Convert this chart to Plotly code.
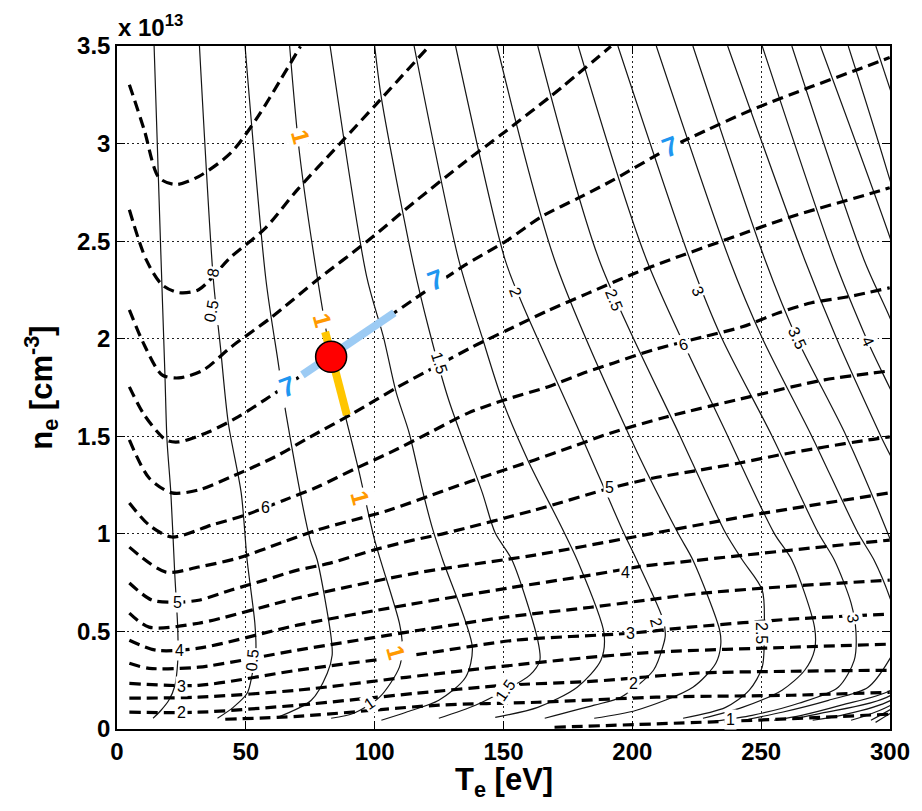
import plotly.graph_objects as go

# ---------------- data (T_e in eV, n_e in 1e13 cm^-3) ----------------
# solid contour lines (levels 0.25 ... 5.0)
s025_T = [14.4, 17.1, 18.6, 19.4, 20.9, 22.4, 23.6, 23.6, 22.4, 20.1, 17.1, 14.0]
s025_n = [3.50, 2.405, 1.815, 1.481, 1.210, 0.799, 0.506, 0.352, 0.219, 0.147, 0.096, 0.055]
s050_T = [32.0, 37.4, 40.1, 43.2, 48.2, 50.5, 53.5, 53.9, 52.4, 50.5, 45.1, 39.0]
s050_n = [3.50, 2.302, 1.963, 1.568, 1.210, 0.866, 0.542, 0.404, 0.276, 0.183, 0.111, 0.055]
s075_T = [49.7, 57.8, 62.4, 65.8, 75.0, 77.7, 83.1, 83.5, 81.6, 75.4, 62.4]
s075_n = [3.50, 2.302, 1.892, 1.599, 0.968, 0.866, 0.470, 0.378, 0.286, 0.147, 0.060]
s100_T = [67.0, 70.8, 77.7, 83.1, 88.5, 93.8, 100.0, 109.6, 110.7, 109.6, 101.9, 91.9, 83.1]
s100_n = [3.50, 2.954, 2.318, 1.907, 1.610, 1.327, 0.968, 0.542, 0.429, 0.317, 0.163, 0.081, 0.055]
s125_T = [82.7, 96.9, 103.4, 108.4, 113.4, 118.8, 122.6, 126.4, 137.9, 135.3, 124.9, 112.2, 102.6]
s125_n = [3.50, 2.318, 2.009, 1.722, 1.517, 1.210, 1.020, 0.866, 0.419, 0.265, 0.147, 0.086, 0.045]
s150_T = [100.0, 102.7, 114.9, 121.1, 128.7, 141.8, 146.8, 153.3, 163.3, 164.1, 160.2, 150.6, 139.1, 124.9]
s150_n = [3.50, 3.226, 2.389, 2.046, 1.687, 1.210, 1.004, 0.866, 0.455, 0.352, 0.276, 0.199, 0.122, 0.055]
s175_T = [115.3, 132.6, 141.8, 149.5, 159.4, 172.5, 178.6, 189.0, 187.8, 178.6, 163.3, 146.8]
s175_n = [3.50, 2.405, 2.004, 1.687, 1.379, 1.035, 0.866, 0.491, 0.352, 0.214, 0.111, 0.060]
s200_T = [131.4, 150.6, 157.1, 180.2, 196.7, 201.7, 212.0, 212.8, 212.0, 208.2, 195.5, 185.2, 166.0]
s200_n = [3.50, 2.405, 2.184, 1.502, 1.004, 0.866, 0.558, 0.481, 0.429, 0.301, 0.163, 0.122, 0.055]
s225_T = [147.5, 169.8, 198.9, 217.7, 223.5, 233.9, 234.3, 232.4, 223.5, 201.6, 185.2]
s225_n = [3.50, 2.405, 1.502, 1.004, 0.866, 0.506, 0.429, 0.337, 0.214, 0.096, 0.055]
s250_T = [163.3, 187.1, 218.5, 236.2, 242.7, 250.4, 251.2, 250.4, 245.4, 236.2, 219.7]
s250_n = [3.50, 2.405, 1.502, 1.004, 0.866, 0.712, 0.506, 0.317, 0.199, 0.111, 0.055]
s275_T = [179.0, 205.5, 237.0, 255.0, 261.9, 270.7, 270.7, 266.9, 258.1, 242.7, 227.4]
s275_n = [3.50, 2.405, 1.502, 1.004, 0.866, 0.522, 0.404, 0.301, 0.199, 0.111, 0.055]
s300_T = [194.4, 222.4, 234.7, 254.2, 272.2, 278.4, 284.9, 286.8, 286.1, 279.9, 264.6, 246.5, 232.0]
s300_n = [3.50, 2.405, 2.004, 1.502, 1.004, 0.866, 0.645, 0.496, 0.352, 0.214, 0.132, 0.070, 0.040]
s325_T = [209.3, 237.7, 250.4, 269.6, 287.6, 293.8, 300.3, 304.1, 300.3, 291.5, 276.1, 258.1, 245.0]
s325_n = [3.50, 2.405, 2.004, 1.502, 1.004, 0.866, 0.660, 0.481, 0.368, 0.214, 0.147, 0.086, 0.050]
s350_T = [223.5, 251.5, 263.8, 283.0, 299.1, 311.8, 311.8, 300.3, 281.1, 265.7, 255.0]
s350_n = [3.50, 2.405, 2.004, 1.502, 1.004, 0.558, 0.352, 0.199, 0.122, 0.070, 0.045]
s375_T = [237.0, 266.9, 279.2, 296.4, 311.8, 319.5, 300.3, 273.4, 262.0]
s375_n = [3.50, 2.405, 2.004, 1.502, 1.071, 0.455, 0.173, 0.081, 0.050]
s400_T = [250.4, 278.4, 291.4, 308.0, 328.0, 300.3, 281.1, 270.0]
s400_n = [3.50, 2.405, 1.984, 1.502, 0.455, 0.147, 0.070, 0.045]
s425_T = [261.9, 289.9, 300.3, 315.6, 334.8, 300.3, 288.8, 284.9]
s425_n = [3.50, 2.405, 2.097, 1.584, 0.455, 0.122, 0.060, 0.045]
s450_T = [273.0, 300.3, 323.3, 342.5, 300.3, 292.6]
s450_n = [3.50, 2.507, 1.584, 0.455, 0.101, 0.045]
s475_T = [283.8, 299.1, 350.2, 300.3, 294.4]
s475_n = [3.50, 2.851, 0.455, 0.081, 0.034]
s500_T = [294.5, 302.0]
s500_n = [3.50, 3.20]

# dashed contour lines (levels 1 ... 8.5)
d85_T = [4.80, 10.55, 16.31, 22.83, 31.66, 44.32, 54.69, 63.52, 71.20]
d85_n = [3.302, 3.071, 2.825, 2.790, 2.831, 2.954, 3.138, 3.328, 3.498]
d80_T = [4.80, 11.32, 17.46, 23.99, 31.66, 44.32, 57.38, 70.05, 86.54, 101.88, 121.06]
d80_n = [2.661, 2.405, 2.277, 2.236, 2.251, 2.420, 2.564, 2.764, 3.000, 3.220, 3.498]
d75_T = [4.80, 10.55, 17.46, 23.99, 33.58, 44.32, 59.67, 77.74, 96.89, 116.07, 135.26, 150.61, 168.66, 191.68]
d75_n = [2.148, 1.969, 1.815, 1.799, 1.840, 1.958, 2.107, 2.302, 2.497, 2.707, 2.908, 3.061, 3.246, 3.498]
d70_T = [4.80, 10.55, 18.99, 23.99, 35.49, 46.99, 57.38, 66.21, 71.96, 83.10, 107.63, 134.11, 151.76,
         164.82, 180.16, 192.83, 214.69, 223.52, 246.55, 269.57, 287.61, 299.89]
d70_n = [1.753, 1.610, 1.481, 1.471, 1.522, 1.599, 1.687, 1.764, 1.815, 1.907, 2.133, 2.369, 2.507,
         2.626, 2.728, 2.815, 2.980, 3.036, 3.174, 3.292, 3.380, 3.441]
d65_T = [4.80, 12.47, 21.30, 31.66, 44.32, 61.21, 75.04, 91.93, 108.40, 124.91, 137.95, 151.76, 167.12,
         182.46, 200.50, 214.69, 236.18, 261.90, 293.75, 299.89]
d65_n = [1.481, 1.286, 1.210, 1.225, 1.292, 1.394, 1.497, 1.620, 1.748, 1.866, 1.958, 2.046, 2.143,
         2.231, 2.333, 2.405, 2.507, 2.626, 2.749, 2.774]
d60_T = [4.80, 12.47, 21.30, 36.65, 49.69, 65.06, 77.74, 93.08, 105.72, 121.06, 136.42, 150.61, 167.12,
         181.31, 192.83, 208.17, 227.36, 242.71, 256.91, 269.57, 283.77, 299.89]
d60_n = [1.158, 1.045, 0.984, 1.045, 1.096, 1.174, 1.240, 1.338, 1.415, 1.517, 1.620, 1.687, 1.753,
         1.825, 1.876, 1.943, 2.009, 2.061, 2.133, 2.184, 2.215, 2.261]
d55_T = [4.80, 18.99, 31.66, 46.99, 63.52, 77.74, 105.72, 127.58, 146.78, 162.13, 176.32, 191.68, 213.16,
         245.39, 274.56, 299.89]
d55_n = [0.932, 0.804, 0.830, 0.876, 0.953, 1.020, 1.122, 1.225, 1.312, 1.379, 1.445, 1.517, 1.599,
         1.702, 1.789, 1.835]
d50_T = [4.80, 13.62, 23.60, 31.66, 44.32, 57.38, 70.05, 82.72, 99.58, 114.92, 127.58, 162.13, 191.68,
         208.17, 226.21, 241.56, 256.91, 274.56, 291.45, 299.89]
d50_n = [0.748, 0.660, 0.650, 0.660, 0.712, 0.763, 0.814, 0.850, 0.917, 0.968, 1.004, 1.122, 1.235,
         1.286, 1.327, 1.363, 1.404, 1.445, 1.481, 1.497]
d45_T = [4.80, 12.47, 31.66, 70.05, 116.07, 162.13, 200.50, 246.55, 299.89]
d45_n = [0.594, 0.522, 0.542, 0.671, 0.799, 0.891, 0.984, 1.096, 1.210]
d40_T = [4.80, 15.16, 31.66, 70.05, 112.24, 151.76, 184.00, 204.34, 218.53, 261.90, 299.89]
d40_n = [0.455, 0.404, 0.414, 0.532, 0.635, 0.722, 0.789, 0.835, 0.855, 0.917, 0.968]
d35_T = [4.80, 12.47, 31.66, 70.05, 117.22, 150.61, 184.00, 227.36, 261.90, 299.89]
d35_n = [0.337, 0.311, 0.317, 0.404, 0.506, 0.573, 0.624, 0.696, 0.732, 0.763]
d30_T = [4.80, 31.66, 70.05, 119.92, 154.45, 199.35, 222.37, 261.90, 299.89]
d30_n = [0.234, 0.224, 0.301, 0.388, 0.455, 0.491, 0.522, 0.563, 0.589]
d25_T = [4.80, 31.66, 70.05, 112.24, 146.78, 180.16, 209.32, 261.90, 299.89]
d25_n = [0.158, 0.163, 0.199, 0.265, 0.317, 0.363, 0.394, 0.419, 0.435]
d20_T = [4.80, 31.66, 70.05, 116.07, 150.61, 185.15, 224.67, 261.90, 299.89]
d20_n = [0.086, 0.086, 0.122, 0.183, 0.224, 0.245, 0.286, 0.296, 0.301]
d15_T = [42.02, 70.05, 124.91, 163.28, 209.32, 261.90, 299.89]
d15_n = [0.050, 0.065, 0.122, 0.137, 0.163, 0.173, 0.188]
d10_T = [169.81, 238.10, 299.89]
d10_n = [0.009, 0.040, 0.076]

# highlighted segments and the measured point
blue_T = [71.96, 107.63]
blue_n = [1.815, 2.133]
yellow_T = [80.8, 89.2]
yellow_n = [2.035, 1.609]
point_T = [83.1]
point_n = [1.907]

# contour labels
solid_lab_text = ["8", "0.5", "0.5", "1", "1.5", "1.5", "2", "2", "2.5", "2.5", "3", "3", "3.5", "4"]
solid_lab_T = [37.4, 36.7, 52.4, 98.0, 124.9, 150.6, 154.5, 209.3, 192.8, 250.4, 225.4, 285.7, 263.8, 291.4]
solid_lab_n = [2.338, 2.138, 0.352, 0.132, 1.876, 0.199, 2.241, 0.547, 2.200, 0.491, 2.241, 0.568, 2.004, 1.984]
solid_lab_ang = [-80, -80, -85, -35, 72, -55, 70, 75, 68, 90, 65, 80, 65, 65]

dash_lab_text = ["2", "3", "4", "5", "6", "6", "5", "4", "3", "2", "1"]
dash_lab_T = [25.1, 25.1, 24.4, 23.6, 57.8, 219.7, 191.3, 197.4, 199.4, 200.5, 238.1]
dash_lab_n = [0.086, 0.219, 0.404, 0.650, 1.133, 1.969, 1.240, 0.804, 0.491, 0.234, 0.050]
dash_lab_ang = [0, 0, 0, 0, 0, -15, 0, 0, 0, 0, 0]

orange_lab_T = [71.2, 79.6, 94.2, 108.4]
orange_lab_n = [3.036, 2.097, 1.184, 0.394]
blue_lab_T = [66.2, 123.8, 214.7]
blue_lab_n = [1.753, 2.302, 2.980]

x_ticks = [0, 50, 100, 150, 200, 250, 300]
x_ticklabels = ["0", "50", "100", "150", "200", "250", "300"]
y_ticks = [0, 0.5, 1, 1.5, 2, 2.5, 3, 3.5]
y_ticklabels = ["0", "0.5", "1", "1.5", "2", "2.5", "3", "3.5"]

solid_sets = [(s025_T, s025_n), (s050_T, s050_n), (s075_T, s075_n), (s100_T, s100_n),
              (s125_T, s125_n), (s150_T, s150_n), (s175_T, s175_n), (s200_T, s200_n),
              (s225_T, s225_n), (s250_T, s250_n), (s275_T, s275_n), (s300_T, s300_n),
              (s325_T, s325_n), (s350_T, s350_n), (s375_T, s375_n), (s400_T, s400_n),
              (s425_T, s425_n), (s450_T, s450_n), (s475_T, s475_n), (s500_T, s500_n)]
dashed_sets = [(d85_T, d85_n), (d80_T, d80_n), (d75_T, d75_n), (d70_T, d70_n), (d65_T, d65_n),
               (d60_T, d60_n), (d55_T, d55_n), (d50_T, d50_n), (d45_T, d45_n), (d40_T, d40_n),
               (d35_T, d35_n), (d30_T, d30_n), (d25_T, d25_n), (d20_T, d20_n), (d15_T, d15_n),
               (d10_T, d10_n)]

# ---------------- figure ----------------
FONT = "Liberation Sans"
fig = go.Figure()
for T, n in solid_sets:
    fig.add_trace(go.Scatter(x=T, y=n, mode="lines", hoverinfo="skip", showlegend=False,
                             line=dict(color="#151515", width=1.2, shape="spline", smoothing=0.8)))
for T, n in dashed_sets:
    fig.add_trace(go.Scatter(x=T, y=n, mode="lines", hoverinfo="skip", showlegend=False,
                             line=dict(color="black", width=3.2, dash="11px,6px",
                                       shape="spline", smoothing=0.8)))
fig.add_trace(go.Scatter(x=blue_T, y=blue_n, mode="lines", showlegend=False,
                         line=dict(color="#9CCBF4", width=8)))
fig.add_trace(go.Scatter(x=yellow_T, y=yellow_n, mode="lines", showlegend=False,
                         line=dict(color="#FFC600", width=8)))
fig.add_trace(go.Scatter(x=point_T, y=point_n, mode="markers", showlegend=False,
                         marker=dict(size=31, color="#FF0000", line=dict(color="black", width=1.5))))

ann = []
for t, x, y, a in zip(solid_lab_text, solid_lab_T, solid_lab_n, solid_lab_ang):
    ann.append(dict(x=x, y=y, xref="x", yref="y", text=t, showarrow=False, textangle=a,
                    font=dict(family=FONT, size=16, color="black"), bgcolor="white", borderpad=1))
for t, x, y, a in zip(dash_lab_text, dash_lab_T, dash_lab_n, dash_lab_ang):
    ann.append(dict(x=x, y=y, xref="x", yref="y", text=t, showarrow=False, textangle=a,
                    font=dict(family=FONT, size=16, color="black"), bgcolor="white", borderpad=1))
for x, y in zip(orange_lab_T, orange_lab_n):
    ann.append(dict(x=x, y=y, xref="x", yref="y", text="1", showarrow=False, textangle=75,
                    font=dict(family=FONT, size=24, color="#FF9900", weight="bold"),
                    bgcolor="white", borderpad=2))
for x, y in zip(blue_lab_T, blue_lab_n):
    ann.append(dict(x=x, y=y, xref="x", yref="y", text="7", showarrow=False, textangle=-20,
                    font=dict(family=FONT, size=27, color="#1E96F0", weight="bold"),
                    bgcolor="white", borderpad=3))
# exponent, axis titles
ann.append(dict(x=0, y=1, xref="paper", yref="paper", xanchor="left", yanchor="bottom",
                xshift=-1, yshift=3, text="x 10<sup>13</sup>", showarrow=False,
                font=dict(family=FONT, size=24, color="black", weight="bold")))
ann.append(dict(x=0.5, y=-0.046, xref="paper", yref="paper", xanchor="center", yanchor="top",
                text="T<sub>e</sub> [eV]", showarrow=False,
                font=dict(family=FONT, size=31, color="black", weight="bold")))
ann.append(dict(x=-0.098, y=0.5, xref="paper", yref="paper", xanchor="center", yanchor="middle",
                text="n<sub>e</sub> [cm<sup>-3</sup>]", showarrow=False, textangle=-90,
                font=dict(family=FONT, size=31, color="black", weight="bold")))

axis_common = dict(ticks="inside", ticklen=8, tickwidth=1.2, tickcolor="black",
                   showline=True, linecolor="black", linewidth=1.5, mirror="ticks",
                   showgrid=True, gridcolor="#222222", gridwidth=1, griddash="2px,3px",
                   zeroline=False,
                   tickfont=dict(family=FONT, size=24, color="black", weight="bold"))
fig.update_xaxes(range=[0, 300], tickvals=x_ticks, ticktext=x_ticklabels, **axis_common)
fig.update_yaxes(range=[0, 3.5], tickvals=y_ticks, ticktext=y_ticklabels, **axis_common)
fig.update_layout(width=922, height=811, margin=dict(l=117, r=23, t=46, b=82),
                  paper_bgcolor="white", plot_bgcolor="white", showlegend=False,
                  annotations=ann)
fig.write_html("out.html")
